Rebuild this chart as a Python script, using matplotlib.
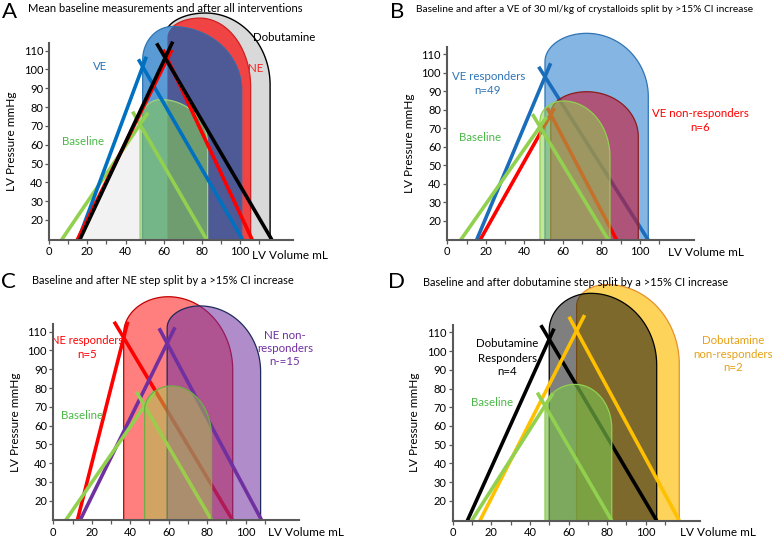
import numpy as np
import matplotlib
matplotlib.use("Agg")
import matplotlib.pyplot as plt
from matplotlib.colors import to_rgba

plt.rcParams['font.family'] = ['Lato', 'DejaVu Sans']

BOTTOM = 9.5
TOP = 114

# ---- panel A: mean baseline and after all interventions
# order: Baseline, VE, NE, Dobutamine
A_esv = [47.6, 49.0, 62.0, 60.8]
A_esp = [70.8, 101.5, 105.7, 106.2]
A_edv = [83.1, 101.0, 105.7, 115.9]
A_p_left = [72, 105, 117, 118]
A_v_peak = [58.5, 64.5, 79.0, 82.0]
A_p_peak = [84, 122.8, 127.3, 130]
A_p_right = [60.5, 89, 90.5, 91.7]
A_v0 = [6.5, 15.2, 14.7, 16.0]
A_ea_v0 = [82.6, 101.5, 106.5, 116.8]
A_espvr_top = [77, 106.8, 110.5, 114.8]
A_ea_top = [77.6, 105.4, 110.5, 113.9]

# ---- panel B: VE split by >15% CI increase
# order: Baseline, VE responders, VE non-responders
B_esv = [48.1, 50.7, 53.7]
B_esp = [70.9, 97.9, 77.5]
B_edv = [84.4, 104.3, 99.1]
B_p_left = [74, 106, 78]
B_v_peak = [60.2, 72.3, 72.3]
B_p_peak = [84.8, 121.4, 89.8]
B_p_right = [54.6, 87.1, 65.5]
B_v0 = [6.9, 15.2, 17.0]
B_ea_v0 = [83.6, 104.3, 87.9]
B_espvr_top = [76, 105.2, 81]
B_ea_top = [77.7, 103.3, 81]

# ---- panel C: NE step split by >15% CI increase
# order: Baseline, NE responders, NE non-responders
C_esv = [47.5, 36.6, 59.2]
C_esp = [70.5, 106.8, 103.8]
C_edv = [82.3, 93.3, 107.8]
C_p_left = [68.3, 109, 112]
C_v_peak = [61.5, 59.8, 76.3]
C_p_peak = [81.1, 128.6, 123.7]
C_p_right = [54.1, 89.6, 88.7]
C_v0 = [6.4, 12.5, 13.9]
C_ea_v0 = [82.4, 93.3, 108.4]
C_espvr_top = [78, 115.3, 112.3]
C_ea_top = [78, 115.3, 111.8]

# ---- panel D: dobutamine step split by >15% CI increase
# order: Baseline, Dobutamine responders, Dobutamine non-responders
D_esv = [47.8, 50.0, 64.2]
D_esp = [70.8, 106.3, 110.8]
D_edv = [82.4, 105.7, 117.4]
D_p_left = [68, 111, 124]
D_v_peak = [63.4, 71.5, 80.0]
D_p_peak = [82.2, 130.8, 135.5]
D_p_right = [58.7, 92.5, 93.0]
D_v0 = [9.8, 7.6, 14.1]
D_ea_v0 = [82.4, 105.7, 117.4]
D_espvr_top = [77.4, 112, 119.2]
D_ea_top = [77.8, 113.8, 118.3]

PANEL_A = (A_esv, A_esp, A_edv, A_p_left, A_v_peak, A_p_peak, A_p_right, A_v0, A_ea_v0, A_espvr_top, A_ea_top)
PANEL_B = (B_esv, B_esp, B_edv, B_p_left, B_v_peak, B_p_peak, B_p_right, B_v0, B_ea_v0, B_espvr_top, B_ea_top)
PANEL_C = (C_esv, C_esp, C_edv, C_p_left, C_v_peak, C_p_peak, C_p_right, C_v0, C_ea_v0, C_espvr_top, C_ea_top)
PANEL_D = (D_esv, D_esp, D_edv, D_p_left, D_v_peak, D_p_peak, D_p_right, D_v0, D_ea_v0, D_espvr_top, D_ea_top)


def loop_top(d, i, n=80):
    esv, esp, edv, pl, vp, pp, pr = [col[i] for col in d[:7]]
    t = np.linspace(0, np.pi / 2, n)
    xl = vp - (vp - esv) * np.cos(t)
    yl = pl + (pp - pl) * np.sin(t)
    xr = vp + (edv - vp) * np.sin(t)
    yr = pr + (pp - pr) * np.cos(t)
    return np.r_[xl, xr[1:]], np.r_[yl, yr[1:]]


def draw_loop(ax, d, i, face, edge, alpha=1.0, z=1, lw=0.9):
    tx, ty = loop_top(d, i)
    xs = np.r_[tx[0], tx, tx[-1]]
    ys = np.r_[BOTTOM, ty, BOTTOM]
    ax.fill(xs, ys, fc=to_rgba(face, alpha), ec=edge, lw=lw, zorder=z, clip_on=False)


def draw_overlap(ax, d, i, j, face, z):
    xi, yi = loop_top(d, i)
    xj, yj = loop_top(d, j)
    x = np.linspace(max(xi[0], xj[0]), min(xi[-1], xj[-1]), 300)
    top = np.minimum(np.interp(x, xi, yi), np.interp(x, xj, yj))
    ax.fill(np.r_[x[0], x, x[-1]], np.r_[BOTTOM, top, BOTTOM], fc=face, ec='none',
            zorder=z, clip_on=False)


def draw_lines(ax, d, i, color, z, lw=2.6):
    esv, esp = d[0][i], d[1][i]
    v0, ea_v0, espvr_top, ea_top = d[7][i], d[8][i], d[9][i], d[10][i]
    s1 = (esp - BOTTOM) / (esv - v0)
    s2 = (esp - BOTTOM) / (esv - ea_v0)
    ax.plot([v0, v0 + (espvr_top - BOTTOM) / s1], [BOTTOM, espvr_top], color=color, lw=lw,
            zorder=z, clip_on=False, solid_capstyle='butt')
    ax.plot([ea_v0, ea_v0 + (ea_top - BOTTOM) / s2], [BOTTOM, ea_top], color=color, lw=lw,
            zorder=z, clip_on=False, solid_capstyle='butt')


def setup(ax, xlab_x, xlab_y):
    ax.set_xlim(0, 128)
    ax.set_ylim(BOTTOM, TOP)
    ax.spines['top'].set_visible(False)
    ax.spines['right'].set_visible(False)
    for s in ('left', 'bottom'):
        ax.spines[s].set_linewidth(1.5)
        ax.spines[s].set_color('#595959')
        ax.spines[s].set_zorder(20)
    ax.set_yticks(range(20, 120, 10))
    ax.set_xticks(range(0, 120, 20))
    ax.set_xticks(range(10, 120, 20), minor=True)
    ax.tick_params(direction='out', length=3, width=0.9, color='#595959',
                   labelsize=8, pad=1.5)
    ax.tick_params(which='minor', direction='out', length=3, width=0.9, color='#595959')
    ax.set_ylabel('LV Pressure mmHg', fontsize=8.5, labelpad=5)
    ax.text(xlab_x, xlab_y, 'LV Volume mL', fontsize=8.5, ha='left', va='center')
    ax.patch.set_alpha(0)


fig = plt.figure(figsize=(7.78, 5.39), dpi=100)
axA = fig.add_axes([0.0634, 0.5553, 0.3134, 0.3647])
axB = fig.add_axes([0.5749, 0.5545, 0.3171, 0.3583])
axC = fig.add_axes([0.0685, 0.0345, 0.3164, 0.3641])
axD = fig.add_axes([0.5819, 0.0341, 0.3175, 0.3633])

GREEN_TXT = '#4cb848'
FS = 8.3

# ---------- A
ax = axA
setup(ax, 106.2, 1.0)
tri_x = [A_v0[3], A_esv[3], A_esv[3]]
tri_y = [BOTTOM, A_esp[3], BOTTOM]
ax.fill(tri_x, tri_y, fc='#f2f2f2', ec='none', zorder=0.5)
draw_loop(ax, PANEL_A, 3, '#d9d9d9', 'black', z=1, lw=1)
draw_loop(ax, PANEL_A, 2, '#f04343', '#d02020', z=2)
draw_loop(ax, PANEL_A, 1, '#5b9bd5', '#2e75b6', z=3)
draw_overlap(ax, PANEL_A, 1, 2, '#4d5a96', z=3.5)
draw_loop(ax, PANEL_A, 0, '#86c75a', '#9fd27a', alpha=0.62, z=4)
for i, c in zip([0, 1, 2, 3], ['#92d050', '#0070c0', '#ff0000', 'black']):
    draw_lines(ax, PANEL_A, i, c, z=6 + i)
ax.text(26.6, 101.5, 'VE', color='#2e75b6', fontsize=FS, ha='center', va='center')
ax.text(108.5, 100.3, 'NE', color='#ff1f1f', fontsize=FS, ha='center', va='center', zorder=12)
ax.text(123.5, 117.1, 'Dobutamine', color='black', fontsize=FS, ha='center', va='center')
ax.text(17.9, 61.6, 'Baseline', color=GREEN_TXT, fontsize=FS, ha='center', va='center')

# ---------- B
ax = axB
setup(ax, 114.5, 2.9)
draw_loop(ax, PANEL_B, 1, '#85b5e2', '#2e75b6', z=1)
draw_lines(ax, PANEL_B, 1, '#1a6dbb', z=2)
draw_loop(ax, PANEL_B, 2, '#c81432', '#8b1c1c', alpha=0.6, z=3)
draw_lines(ax, PANEL_B, 2, '#ff0000', z=4)
draw_lines(ax, PANEL_B, 0, '#92d050', z=5)
draw_loop(ax, PANEL_B, 0, '#92d050', '#92d050', alpha=0.55, z=6)
ax.text(21.3, 98.3, 'VE responders', color='#2e75b6', fontsize=FS, ha='center', va='center')
ax.text(21.0, 90.7, 'n=49', color='#2e75b6', fontsize=FS, ha='center', va='center')
ax.text(131.1, 78.1, 'VE non-responders', color='#ff0000', fontsize=FS, ha='center', va='center')
ax.text(131.1, 70.5, 'n=6', color='#ff0000', fontsize=FS, ha='center', va='center')
ax.text(17.0, 64.9, 'Baseline', color=GREEN_TXT, fontsize=FS, ha='center', va='center')

# ---------- C
ax = axC
setup(ax, 111.6, 2.8)
draw_loop(ax, PANEL_C, 1, '#ff0000', '#c00000', alpha=0.5, z=1)
draw_lines(ax, PANEL_C, 1, '#ff0000', z=2)
draw_loop(ax, PANEL_C, 2, '#7030a0', '#1f2a5c', alpha=0.55, z=3)
draw_lines(ax, PANEL_C, 2, '#7030a0', z=4)
draw_lines(ax, PANEL_C, 0, '#92d050', z=5)
draw_loop(ax, PANEL_C, 0, '#a5c94a', '#70ad47', alpha=0.5, z=6)
ax.text(17.6, 105.2, 'NE responders', color='#ff0000', fontsize=8.0, ha='center', va='center', zorder=12)
ax.text(17.6, 98.1, 'n=5', color='#ff0000', fontsize=FS, ha='center', va='center')
ax.text(120.5, 108.2, 'NE non-', color='#7030a0', fontsize=FS, ha='center', va='center')
ax.text(120.5, 100.8, 'responders', color='#7030a0', fontsize=FS, ha='center', va='center')
ax.text(120.5, 94.0, 'n-=15', color='#7030a0', fontsize=FS, ha='center', va='center')
ax.text(14.8, 65.3, 'Baseline', color=GREEN_TXT, fontsize=FS, ha='center', va='center')

# ---------- D
ax = axD
setup(ax, 117.8, 3.0)
draw_loop(ax, PANEL_D, 2, '#fdd35a', '#e6912c', z=1)
draw_loop(ax, PANEL_D, 1, 'black', 'black', alpha=0.5, z=2)
draw_lines(ax, PANEL_D, 1, 'black', z=3)
draw_lines(ax, PANEL_D, 2, '#ffc000', z=4)
draw_loop(ax, PANEL_D, 0, '#7cc04e', '#92d050', alpha=0.65, z=5)
draw_lines(ax, PANEL_D, 0, '#92d050', z=6)
ax.text(28.3, 103.8, 'Dobutamine', color='black', fontsize=FS, ha='center', va='center')
ax.text(28.3, 95.8, 'Responders', color='black', fontsize=FS, ha='center', va='center')
ax.text(28.3, 89.0, 'n=4', color='black', fontsize=FS, ha='center', va='center')
ax.text(145.4, 105.5, 'Dobutamine', color='#e6a117', fontsize=FS, ha='center', va='center')
ax.text(145.4, 98.4, 'non-responders', color='#e6a117', fontsize=FS, ha='center', va='center')
ax.text(145.4, 91.3, 'n=2', color='#e6a117', fontsize=FS, ha='center', va='center')
ax.text(20.2, 72.6, 'Baseline', color=GREEN_TXT, fontsize=FS, ha='center', va='center')

# ---------- panel letters and titles
W, H = 778, 539
letters = [('A', 10, 12), ('B', 397, 12), ('C', 8, 282), ('D', 397, 282)]
for s, x, y in letters:
    fig.text(x / W, 1 - y / H, s, fontsize=16, ha='center', va='center')
titles = [
    ('Mean baseline measurements and after all interventions', 28, 8.5, 8.0),
    ('Baseline and after a VE of 30 ml/kg of crystalloids split by >15% CI increase', 416, 9.5, 7.3),
    ('Baseline and after NE step split by a >15% CI increase', 32, 281, 7.9),
    ('Baseline and after dobutamine step split by a >15% CI increase', 423, 282, 7.9),
]
for s, x, y, fs in titles:
    fig.text(x / W, 1 - y / H, s, fontsize=fs, ha='left', va='center')

fig.savefig('out.png', dpi=100)
